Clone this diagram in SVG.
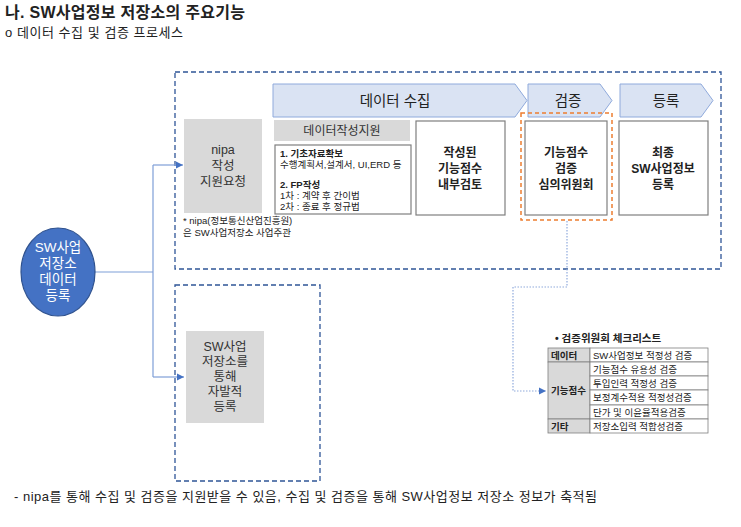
<svg xmlns="http://www.w3.org/2000/svg" width="741" height="527" viewBox="0 0 741 527">
<style>
text{font-family:"Liberation Sans","Noto Sans CJK KR",sans-serif;fill:#222}
.t{font-size:16px;font-weight:bold}
.st{font-size:13px}
.dash{fill:none;stroke:#2F5597;stroke-width:1.3;stroke-dasharray:5 3}
.pent{fill:#DAE3F3;stroke:#8FAADC;stroke-width:1}
.pl{font-size:14.5px;text-anchor:middle}
.gray{fill:#D9D9D9}
.gt{font-size:12.5px;text-anchor:middle;fill:#333}
.wb{fill:#fff;stroke:#7F7F7F;stroke-width:1.2}
.bt{font-size:12px;font-weight:bold;text-anchor:middle}
.sm{font-size:9.5px}
.smb{font-size:9.5px;font-weight:bold}
.b{font-weight:bold}
.tb{fill:#fff;stroke:#7F7F7F;stroke-width:0.8}
.tg{fill:#D9D9D9;stroke:#7F7F7F;stroke-width:0.8}
.conn{fill:none;stroke:#7F9FD8;stroke-width:1.2}
.dot{fill:none;stroke:#8FAADC;stroke-width:1.2;stroke-dasharray:1.5 1.5}
</style>
<defs>
<marker id="ah" viewBox="0 0 8 8" refX="8" refY="4" markerWidth="6" markerHeight="6" orient="auto"><path d="M0,0 L8,4 L0,8 z" fill="#4472C4"/></marker>
</defs>
<rect width="741" height="527" fill="#fff"/>
<g id="title">
<text class="t" x="5" y="18" textLength="240" lengthAdjust="spacing">나. SW사업정보 저장소의 주요기능</text>
<text class="st" x="5" y="37" textLength="178" lengthAdjust="spacing">o 데이터 수집 및 검증 프로세스</text>
</g>
<g id="group-top"><rect class="dash" x="175" y="72" width="546" height="197"/></g>
<g id="group-bottom"><rect class="dash" x="175" y="285" width="145" height="196"/></g>
<g id="connectors">
<path class="conn" d="M95,272 H153 M153,165 V377"/>
<path class="conn" d="M153,165 H183" marker-end="url(#ah)"/>
<path class="conn" d="M153,377 H184" marker-end="url(#ah)"/>
<path class="dot" d="M567,221 V287 H513 V391 H546" marker-end="url(#ah)"/>
</g>
<g id="stage-collect">
<path class="pent" d="M273,84 H515 L527,100.5 L515,117 H273 Z"/>
<text class="pl" x="395" y="106">데이터 수집</text>
</g>
<g id="stage-verify">
<path class="pent" d="M528,84 H600 L612,100.5 L600,117 H528 Z"/>
<text class="pl" x="568" y="106">검증</text>
</g>
<g id="stage-register">
<path class="pent" d="M620,84 H701 L713,100.5 L701,117 H620 Z"/>
<text class="pl" x="666" y="106">등록</text>
</g>
<g id="nipa-request">
<rect class="gray" x="184" y="119" width="78" height="94"/>
<text class="gt"><tspan x="223" y="154">nipa</tspan><tspan x="223" y="170">작성</tspan><tspan x="223" y="186">지원요청</tspan></text>
</g>
<g id="nipa-note">
<text class="sm" fill="#333"><tspan x="183" y="224">* nipa(정보통신산업진흥원)</tspan><tspan x="183" y="236">은 SW사업저장소 사업주관</tspan></text>
</g>
<g id="data-support">
<rect class="gray" x="274" y="120" width="136" height="21"/>
<text class="gt" x="342" y="135" style="font-size:12px">데이터작성지원</text>
<rect class="wb" x="275" y="145" width="136" height="69"/>
<text class="sm"><tspan class="b" x="280" y="157">1. 기초자료확보</tspan><tspan x="280" y="168">수행계획서,설계서, UI,ERD 등</tspan><tspan class="b" x="280" y="188">2. FP작성</tspan><tspan x="280" y="199">1차 : 계약 후 간이법</tspan><tspan x="280" y="210">2차 : 종료 후 정규법</tspan></text>
</g>
<g id="internal-review">
<rect class="wb" x="416" y="121" width="89" height="94"/>
<text class="bt"><tspan x="460" y="157">작성된</tspan><tspan x="460" y="173">기능점수</tspan><tspan x="460" y="189">내부검토</tspan></text>
</g>
<g id="committee">
<rect fill="none" stroke="#ED7D31" stroke-width="1.5" stroke-dasharray="4 3" x="521" y="113" width="91" height="107"/>
<rect class="wb" x="525" y="121" width="82" height="94"/>
<text class="bt"><tspan x="566" y="157">기능점수</tspan><tspan x="566" y="173">검증</tspan><tspan x="566" y="189">심의위원회</tspan></text>
</g>
<g id="final-register">
<rect class="wb" x="619" y="121" width="89" height="94"/>
<text class="bt"><tspan x="663" y="157">최종</tspan><tspan x="663" y="173">SW사업정보</tspan><tspan x="663" y="189">등록</tspan></text>
</g>
<g id="sw-source">
<ellipse cx="58" cy="272" rx="37" ry="44" fill="#4472C4" stroke="#2F528F" stroke-width="1.2"/>
<text style="font-size:13.5px;text-anchor:middle;fill:#fff"><tspan x="58" y="252">SW사업</tspan><tspan x="58" y="268">저장소</tspan><tspan x="58" y="284">데이터</tspan><tspan x="58" y="300">등록</tspan></text>
</g>
<g id="voluntary">
<rect class="gray" x="186" y="331" width="78" height="92"/>
<text class="gt"><tspan x="225" y="351">SW사업</tspan><tspan x="225" y="366">저장소를</tspan><tspan x="225" y="381">통해</tspan><tspan x="225" y="396">자발적</tspan><tspan x="225" y="411">등록</tspan></text>
</g>
<g id="checklist">
<text class="smb" x="555" y="342" style="font-size:10.5px">•  검증위원회 체크리스트</text>
<rect class="tg" x="548" y="348" width="42" height="14"/>
<rect class="tg" x="548" y="362" width="42" height="57"/>
<rect class="tg" x="548" y="419" width="42" height="14"/>
<rect class="tb" x="590" y="348" width="118" height="14"/>
<rect class="tb" x="590" y="362" width="118" height="14"/>
<rect class="tb" x="590" y="376" width="118" height="14"/>
<rect class="tb" x="590" y="390" width="118" height="15"/>
<rect class="tb" x="590" y="405" width="118" height="14"/>
<rect class="tb" x="590" y="419" width="118" height="14"/>
<text class="smb" x="551" y="359">데이터</text>
<text class="smb" x="551" y="394">기능점수</text>
<text class="smb" x="551" y="430">기타</text>
<text class="sm" x="593" y="359">SW사업정보 적정성 검증</text>
<text class="sm" x="593" y="373">기능점수 유용성 검증</text>
<text class="sm" x="593" y="387">투입인력 적정성 검증</text>
<text class="sm" x="593" y="401">보정계수적용 적정성검증</text>
<text class="sm" x="593" y="416">단가 및 이윤율적용검증</text>
<text class="sm" x="593" y="430">저장소입력 적합성검증</text>
</g>
<g id="summary">
<text x="14" y="501" style="font-size:13px" textLength="583" lengthAdjust="spacing">- nipa를 통해 수집 및 검증을 지원받을 수 있음, 수집 및 검증을 통해 SW사업정보 저장소 정보가 축적됨</text>
</g>
</svg>
